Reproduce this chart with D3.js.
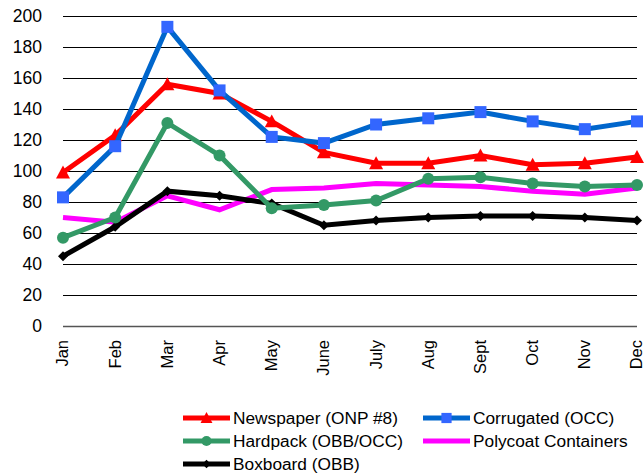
<!DOCTYPE html>
<html><head><meta charset="utf-8">
<script src="https://cdn.jsdelivr.net/npm/d3@7"></script>
<style>body{margin:0;background:#fff}svg{display:block}text{font-family:"Liberation Sans",Arial,sans-serif;fill:#000}</style>
</head><body><svg id="c" width="644" height="475"></svg>
<script>
const months = ["Jan","Feb","Mar","Apr","May","June","July","Aug","Sept","Oct","Nov","Dec"];
const yTicks = [0,20,40,60,80,100,120,140,160,180,200];
const newspaper = [99,123,156,150,132,112,105,105,110,104,105,109];
const corrugated = [83,116,193,152,122,118,130,134,138,132,127,132];
const hardpack = [57,70,131,110,76,78,81,95,96,92,90,91];
const polycoat = [70,67,84,75,88,89,92,91,90,87,85,89];
const boxboard = [45,64,87,84,79,65,68,70,71,71,70,68];
const seriesNames = ["Newspaper (ONP #8)","Corrugated (OCC)","Hardpack (OBB/OCC)","Polycoat Containers","Boxboard (OBB)"];

const svg = d3.select("#c");
const x = d3.scalePoint().domain(months).range([63,637]);
const y = d3.scaleLinear().domain([0,200]).range([326,16]);

// grid
svg.append("g").selectAll("line").data(yTicks.filter(d=>d>0)).join("line")
  .attr("x1",63).attr("x2",637).attr("y1",d=>Math.round(y(d))+0.5).attr("y2",d=>Math.round(y(d))+0.5)
  .attr("stroke","#000").attr("stroke-width",1);
svg.append("line").attr("x1",63).attr("x2",637).attr("y1",326.5).attr("y2",326.5).attr("stroke","#555").attr("stroke-width",1.5);

// y labels
svg.append("g").selectAll("text").data(yTicks).join("text")
  .attr("x",42).attr("y",d=>y(d)).attr("dy","0.36em").attr("text-anchor","end")
  .style("font-size","17.5px").text(d=>d);
// x labels
svg.append("g").selectAll("text").data(months).join("text")
  .attr("transform",d=>`translate(${x(d)-0.5},340) rotate(-90)`).attr("dy","0.36em").attr("text-anchor","end")
  .style("font-size","16.5px").text(d=>d);

const series = [
  {name:seriesNames[0], vals:newspaper, color:"#FF0000", mcolor:"#FF0000", marker:"tri"},
  {name:seriesNames[1], vals:corrugated, color:"#0066CC", mcolor:"#3366FF", marker:"sq"},
  {name:seriesNames[2], vals:hardpack, color:"#339966", mcolor:"#339966", marker:"circ"},
  {name:seriesNames[3], vals:polycoat, color:"#FF00FF", mcolor:null, marker:null},
  {name:seriesNames[4], vals:boxboard, color:"#000000", mcolor:"#000000", marker:"dia"}
];
const line = d3.line().x((d,i)=>x(months[i])).y(d=>y(d));
function marker(g, type, cx, cy, color, scale){
  scale = scale||1;
  if(type==="tri"){
    const s=7*scale;
    g.append("path").attr("d",`M${cx},${cy-s}L${cx+s},${cy+s*0.85}L${cx-s},${cy+s*0.85}Z`).attr("fill",color);
  } else if(type==="sq"){
    const s=6*scale;
    g.append("rect").attr("x",cx-s).attr("y",cy-s).attr("width",2*s).attr("height",2*s).attr("fill",color);
  } else if(type==="circ"){
    g.append("circle").attr("cx",cx).attr("cy",cy).attr("r",6*scale).attr("fill",color);
  } else if(type==="dia"){
    const s=5*scale;
    g.append("path").attr("d",`M${cx},${cy-s}L${cx+s},${cy}L${cx},${cy+s}L${cx-s},${cy}Z`).attr("fill",color);
  }
}
const order = [3,4,2,0,1];
order.forEach(k=>{
  const s=series[k];
  const g=svg.append("g");
  g.append("path").datum(s.vals).attr("d",line).attr("fill","none").attr("stroke",s.color)
    .attr("stroke-width",5).attr("stroke-linejoin","miter");
  if(s.marker) s.vals.forEach((v,i)=>marker(g,s.marker,x(months[i]),y(v),s.mcolor));
});

// legend
const legPos = [[183,418],[423,418],[183,441],[423,441],[183,464]];
series.forEach((s,k)=>{
  const [lx,ly]=legPos[k];
  const g=svg.append("g");
  g.append("line").attr("x1",lx).attr("x2",lx+47).attr("y1",ly).attr("y2",ly).attr("stroke",s.color).attr("stroke-width",5);
  if(s.marker) marker(g,s.marker,lx+23.5,ly,s.mcolor,0.85);
  g.append("text").attr("x",lx+50).attr("y",ly).attr("dy","0.36em").style("font-size","17.3px").text(s.name);
});
</script></body></html>
